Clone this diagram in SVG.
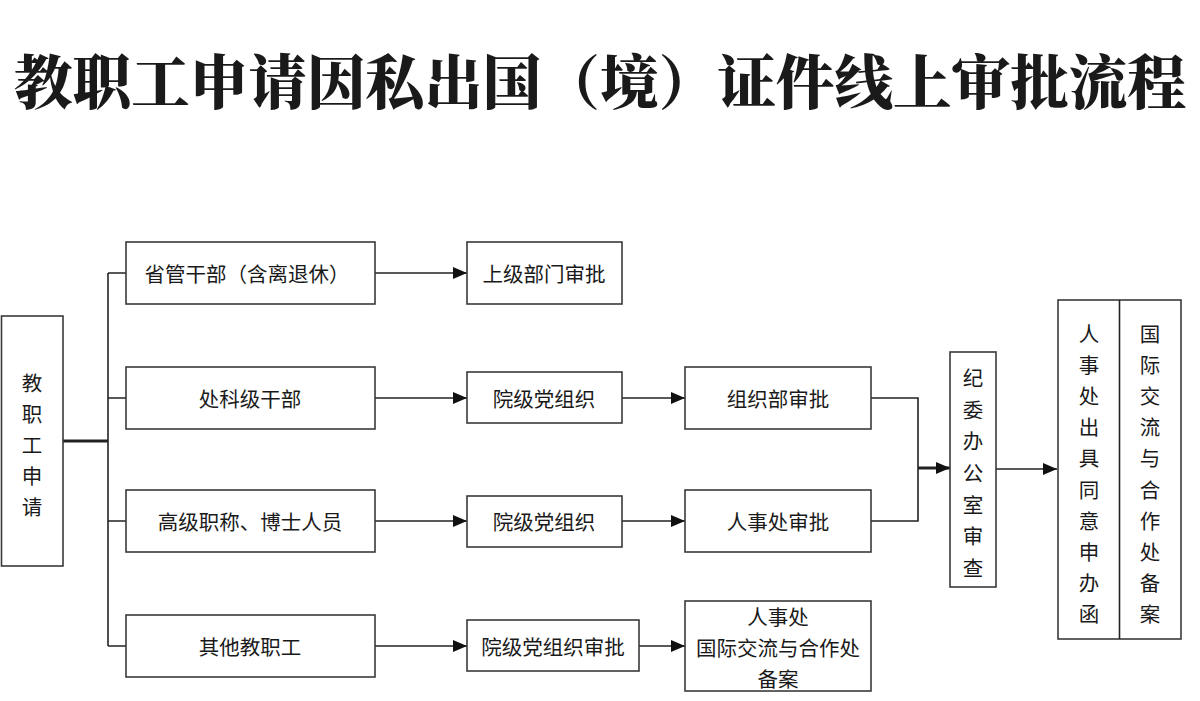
<svg xmlns="http://www.w3.org/2000/svg" width="1200" height="701" viewBox="0 0 1200 701">
<defs>
<style>
.box{fill:#fff;stroke:#3a3a3a;stroke-width:1.6}
.t{font-family:"Noto Sans CJK SC","Noto Sans CJK JP",sans-serif;font-size:20.5px;fill:#1a1a1a;text-anchor:middle;dominant-baseline:central}
.title{font-family:"Noto Serif CJK SC","Noto Sans CJK SC",sans-serif;font-size:59px;font-weight:900;fill:#1a1a1a;text-anchor:middle}
.ln{fill:none;stroke:#222;stroke-width:1.6}
.thick{fill:none;stroke:#222;stroke-width:3}
</style>
<marker id="ar" viewBox="0 0 14 12" refX="14" refY="6" markerWidth="14" markerHeight="12" markerUnits="userSpaceOnUse" orient="auto">
<path d="M0,0 L14,6 L0,12 Z" fill="#111"/>
</marker>
</defs>
<rect width="1200" height="701" fill="#fff"/>
<text class="title" x="600" y="104" textLength="1172" lengthAdjust="spacingAndGlyphs">教职工申请因私出国（境）证件线上审批流程</text>

<g id="connectors">
<path class="thick" d="M63,441 H108"/>
<path class="ln" d="M108,273 V646"/>
<path class="ln" d="M108,273 H126 M108,398 H126 M108,521 H126 M108,646 H126"/>
<path class="ln" d="M375,273 H467" marker-end="url(#ar)"/>
<path class="ln" d="M375,398 H467" marker-end="url(#ar)"/>
<path class="ln" d="M375,521 H467" marker-end="url(#ar)"/>
<path class="ln" d="M375,646 H467" marker-end="url(#ar)"/>
<path class="ln" d="M622,398 H685" marker-end="url(#ar)"/>
<path class="ln" d="M622,521 H685" marker-end="url(#ar)"/>
<path class="ln" d="M639,646 H685" marker-end="url(#ar)"/>
<path class="ln" d="M871,398 H918 V521 H871"/>
<path class="thick" d="M918,468 H950" marker-end="url(#ar)"/>
<path class="ln" d="M996,469 H1057" marker-end="url(#ar)"/>
</g>

<g id="n-apply">
<rect class="box" x="1.5" y="316" width="61.5" height="250"/>
<text class="t" x="32" y="382">教</text>
<text class="t" x="32" y="413">职</text>
<text class="t" x="32" y="444">工</text>
<text class="t" x="32" y="475">申</text>
<text class="t" x="32" y="506">请</text>
</g>

<g id="n-shengguan">
<rect class="box" x="126" y="242" width="249" height="62"/>
<text class="t" x="247" y="273">省管干部（含离退休）</text>
</g>
<g id="n-chuke">
<rect class="box" x="126" y="367" width="249" height="62"/>
<text class="t" x="250" y="398">处科级干部</text>
</g>
<g id="n-gaoji">
<rect class="box" x="126" y="490" width="249" height="62"/>
<text class="t" x="250" y="521">高级职称、博士人员</text>
</g>
<g id="n-qita">
<rect class="box" x="126" y="615" width="249" height="62"/>
<text class="t" x="250" y="646">其他教职工</text>
</g>

<g id="n-shangji">
<rect class="box" x="467" y="242" width="155" height="62"/>
<text class="t" x="544" y="273">上级部门审批</text>
</g>
<g id="n-yuanji1">
<rect class="box" x="467" y="372" width="155" height="51"/>
<text class="t" x="544" y="398">院级党组织</text>
</g>
<g id="n-yuanji2">
<rect class="box" x="467" y="496" width="155" height="51"/>
<text class="t" x="544" y="521">院级党组织</text>
</g>
<g id="n-yuanji3">
<rect class="box" x="467" y="620" width="172" height="51"/>
<text class="t" x="553" y="646">院级党组织审批</text>
</g>

<g id="n-zuzhibu">
<rect class="box" x="685" y="367" width="186" height="62"/>
<text class="t" x="778" y="398">组织部审批</text>
</g>
<g id="n-renshi">
<rect class="box" x="685" y="490" width="186" height="62"/>
<text class="t" x="778" y="521">人事处审批</text>
</g>
<g id="n-beian">
<rect class="box" x="685" y="601" width="186" height="90"/>
<text class="t" x="778" y="616">人事处</text>
<text class="t" x="778" y="647">国际交流与合作处</text>
<text class="t" x="778" y="678">备案</text>
</g>

<g id="n-jiwei">
<rect class="box" x="950" y="352" width="46" height="235"/>
<text class="t" x="973" y="377">纪</text>
<text class="t" x="973" y="409">委</text>
<text class="t" x="973" y="440">办</text>
<text class="t" x="973" y="472">公</text>
<text class="t" x="973" y="504">室</text>
<text class="t" x="973" y="535">审</text>
<text class="t" x="973" y="567">查</text>
</g>

<g id="n-final">
<rect class="box" x="1058" y="300" width="123" height="339"/>
<path class="ln" d="M1119.5,300 V639"/>
<text class="t" x="1089" y="333">人</text>
<text class="t" x="1089" y="364">事</text>
<text class="t" x="1089" y="395">处</text>
<text class="t" x="1089" y="426">出</text>
<text class="t" x="1089" y="457">具</text>
<text class="t" x="1089" y="489">同</text>
<text class="t" x="1089" y="520">意</text>
<text class="t" x="1089" y="551">申</text>
<text class="t" x="1089" y="582">办</text>
<text class="t" x="1089" y="613">函</text>
<text class="t" x="1150" y="333">国</text>
<text class="t" x="1150" y="364">际</text>
<text class="t" x="1150" y="395">交</text>
<text class="t" x="1150" y="426">流</text>
<text class="t" x="1150" y="457">与</text>
<text class="t" x="1150" y="489">合</text>
<text class="t" x="1150" y="520">作</text>
<text class="t" x="1150" y="551">处</text>
<text class="t" x="1150" y="582">备</text>
<text class="t" x="1150" y="613">案</text>
</g>
</svg>
